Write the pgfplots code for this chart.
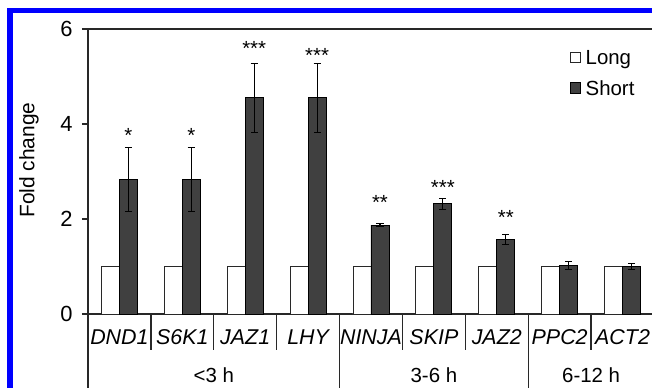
\documentclass[border=0pt]{standalone}
\usepackage{pgfplots}
\pgfplotsset{compat=1.18}
\usepackage{pgfplotstable}
\usepackage{fontspec}
\setmainfont{Liberation Sans}
\definecolor{darkbar}{RGB}{64,64,64}
\definecolor{axisgray}{RGB}{40,40,40}
\pgfplotstableread{
x y
0 1
1 1
2 1
3 1
4 1
5 1
6 1
7 1
8 1
}\longdata
\pgfplotstableread{
x y err
0 2.83 0.68
1 2.83 0.68
2 4.55 0.73
3 4.55 0.73
4 1.87 0.03
5 2.32 0.12
6 1.57 0.11
7 1.02 0.09
8 1.00 0.06
}\shortdata
\newcommand{\fs}{\fontsize{20.5}{24}\selectfont}
\newcommand{\fst}{\fontsize{22}{26}\selectfont}
\newcommand{\fsc}{\fontsize{21.5}{25}\selectfont}
\begin{document}
\begin{tikzpicture}
\begin{axis}[
  scale only axis, width=566bp, height=285bp,
  xmin=-0.5, xmax=8.5, ymin=0, ymax=6,
  axis x line=bottom, axis y line=left,
  axis line style={axisgray, line width=1.3bp, -},
  ybar=0pt, bar width=18bp,
  ytick={0,2,4,6},
  tick align=outside, major tick length=6bp,
  ytick style={axisgray, line width=1.3bp},
  xtick={0,...,8},
  xtick style={draw=none},
  xticklabels={DND1,S6K1,JAZ1,LHY,NINJA,SKIP,JAZ2,PPC2,ACT2},
  xticklabel style={font=\fsc\itshape, anchor=base, yshift=-24bp},
  yticklabel style={font=\fst, xshift=-6bp},
  /pgf/number format/assume math mode=true,
  ylabel={Fold change},
  ylabel style={font=\fontsize{21}{24}\selectfont, at={(axis description cs:-0.1042,0.54)}, anchor=center},
  legend style={at={(rel axis cs:0.851,0.93)}, anchor=north west, draw=none, fill=none,
    font=\fs, row sep=12bp, inner sep=0pt, nodes={inner sep=1.5bp}},
  legend cell align=left,
  legend image code/.code={\draw[#1, line width=0.8bp] (0bp,-4bp) rectangle (10.5bp,6.5bp);},
  clip=false,
]
\addplot[draw=axisgray, fill=white, line width=0.8bp] table[x=x, y=y] {\longdata};
\addlegendentry{\hspace{3bp}Long}
\addplot[draw=black, fill=darkbar, line width=0.8bp,
  error bars/.cd, y dir=both, y explicit,
  error bar style={black, line width=1.1bp},
  error mark options={rotate=90, mark size=3.6bp, black, line width=1.1bp}]
  table[x=x, y=y, y error=err] {\shortdata};
\addlegendentry{\hspace{3bp}Short}
% top line of frame
\draw[axisgray, line width=1.3bp] (rel axis cs:0,1) -- (rel axis cs:1,1);
% category separators
\draw[axisgray, line width=1.3bp] (axis cs:0.5,0) -- ([yshift=-36bp]axis cs:0.5,0);
\draw[axisgray, line width=1.3bp] (axis cs:1.5,0) -- ([yshift=-36bp]axis cs:1.5,0);
\draw[axisgray, line width=1.3bp] (axis cs:2.5,0) -- ([yshift=-36bp]axis cs:2.5,0);
\draw[axisgray, line width=1.3bp] (axis cs:4.5,0) -- ([yshift=-36bp]axis cs:4.5,0);
\draw[axisgray, line width=1.3bp] (axis cs:5.5,0) -- ([yshift=-36bp]axis cs:5.5,0);
\draw[axisgray, line width=1.3bp] (axis cs:7.5,0) -- ([yshift=-36bp]axis cs:7.5,0);
\draw[axisgray, line width=1.3bp] (axis cs:3.5,0) -- ([yshift=-80bp]axis cs:3.5,0);
\draw[axisgray, line width=1.3bp] (axis cs:6.5,0) -- ([yshift=-80bp]axis cs:6.5,0);
\draw[axisgray, line width=1.3bp] (axis cs:-0.5,0) -- ([yshift=-80bp]axis cs:-0.5,0);
% group labels
\node[font=\fs, anchor=base] at ([yshift=-68bp]axis cs:1.5,0) {<3 h};
\node[font=\fs, anchor=base] at ([yshift=-68bp]axis cs:5,0) {3-6 h};
\node[font=\fs, anchor=base] at ([yshift=-68bp]axis cs:7.5,0) {6-12 h};
% significance stars
\node[font=\fs, anchor=base, inner sep=0pt] at (axis cs:0.143,3.61) {*};
\node[font=\fs, anchor=base, inner sep=0pt] at (axis cs:1.143,3.61) {*};
\node[font=\fs, anchor=base, inner sep=0pt] at (axis cs:2.143,5.44) {***};
\node[font=\fs, anchor=base, inner sep=0pt] at (axis cs:3.143,5.29) {***};
\node[font=\fs, anchor=base, inner sep=0pt] at (axis cs:4.143,2.19) {**};
\node[font=\fs, anchor=base, inner sep=0pt] at (axis cs:5.143,2.52) {***};
\node[font=\fs, anchor=base, inner sep=0pt] at (axis cs:6.143,1.89) {**};
\end{axis}
\draw[blue, line width=5.3bp] (-78bp,-90bp) -- (-78bp,303.4bp) -- (580bp,303.4bp);
\pgfresetboundingbox
\useasboundingbox (-88bp,-74bp) rectangle (564bp,314bp);
\end{tikzpicture}
\end{document}
